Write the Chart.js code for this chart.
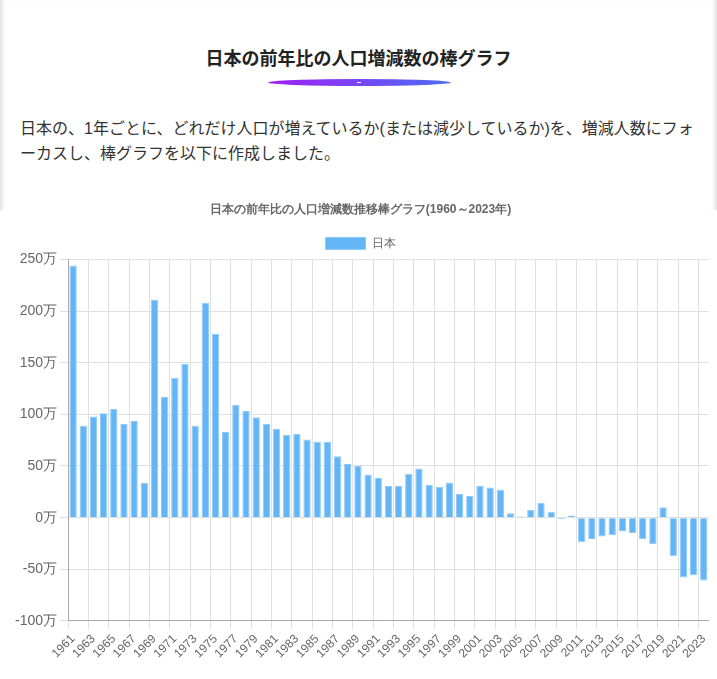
<!DOCTYPE html>
<html lang="ja">
<head>
<meta charset="utf-8">
<script src="https://cdn.jsdelivr.net/npm/chart.js@4"></script>
<style>
  body { margin: 0; background: #fff; font-family: "Liberation Sans", "Noto Sans CJK JP", sans-serif; color: #333; }
  .card { position: absolute; left: 0; top: 0; width: 717px; height: 210px; box-shadow: inset 5px 0 4px -3px #ddd, inset -5px 0 4px -3px #ddd; }
  h2 { position: absolute; top: 44px; left: 0; width: 717px; margin: 0; text-align: center; font-size: 18px; font-weight: bold; color: #222; }
  .bar { position: absolute; left: 268px; top: 79px; width: 183px; height: 7px; border-radius: 50%; background: linear-gradient(90deg, #a21df2, #4c6ef5); }
  .bar span { position: absolute; left: 89px; top: 3px; width: 4px; height: 1px; background: #fff; }
  p { position: absolute; top: 116px; left: 20px; width: 680px; margin: 0; font-size: 16px; line-height: 25px; color: #333; line-break: loose; }
  .wrap { position: absolute; left: 0; top: 196px; width: 717px; height: 468px; }
</style>
</head>
<body>
<div class="card"></div>
<h2>日本の前年比の人口増減数の棒グラフ</h2>
<div class="bar"><span></span></div>
<p>日本の、1年ごとに、どれだけ人口が増えているか(または減少しているか)を、増減人数にフォーカスし、棒グラフを以下に作成しました。</p>
<div class="wrap"><canvas id="popChart"></canvas></div>
<script>
// 1961〜2023年、前年比の増減数(万人)
const years = [];
for (let y = 1961; y <= 2023; y++) years.push(String(y));

const changes = [
  244, 89, 98, 101, 105.5, 90.7, 93.6, 33.8, 211, 117,
  135.4, 149, 89, 208, 178, 83, 109, 103.3, 97.2, 91,
  86, 80, 81, 75.6, 73.4, 73.4, 59.5, 52, 50, 41.8,
  38.3, 30.6, 30.6, 42.5, 47.6, 31.5, 30, 34, 22.8, 21,
  30.6, 29.3, 27, 4.2, 1, 7.7, 14.5, 5.8, -1.5, 2,
  -23.8, -20.6, -18.3, -17, -13.5, -14.8, -20.9, -25.7, 10, -37.3,
  -58, -55.7, -60.8
];

const ctx = document.getElementById("popChart").getContext("2d");
const popChart = new Chart(ctx, {
  type: "bar",
  data: {
    labels: years,
    datasets: [
      {
        label: "日本",
        data: changes,
        backgroundColor: "#64b5f6",
        borderColor: "#90caf9",
        borderWidth: 1,
      },
    ],
  },
  options: {
    responsive: true,
    maintainAspectRatio: false,
    animation: false,
    layout: { padding: { left: 12, right: 8 } },
    plugins: {
      title: {
        display: true,
        text: "日本の前年比の人口増減数推移棒グラフ(1960～2023年)",
        color: "#666",
        font: { size: 12, weight: "bold" },
        padding: { top: 6, bottom: 11 },
      },
      legend: {
        display: true,
        position: "top",
        labels: { color: "#666", font: { size: 12 }, boxWidth: 40, boxHeight: 12 },
      },
    },
    scales: {
      x: {
        grid: { color: (c) => (c.index % 2 === 0 ? "#e0e0e0" : "transparent") },
        border: { color: "#aaa" },
        ticks: {
          color: "#666",
          font: { size: 12 },
          autoSkip: false,
          maxRotation: 45,
          minRotation: 45,
          callback: function (v, i) {
            return i % 2 === 0 ? this.getLabelForValue(v) : "";
          },
        },
      },
      y: {
        min: -100,
        max: 250,
        grid: { color: "#e0e0e0" },
        border: { color: "#aaa" },
        ticks: {
          stepSize: 50,
          color: "#666",
          font: { size: 14 },
          callback: (v) => v + "万",
        },
      },
    },
  },
});
</script>
</body>
</html>
